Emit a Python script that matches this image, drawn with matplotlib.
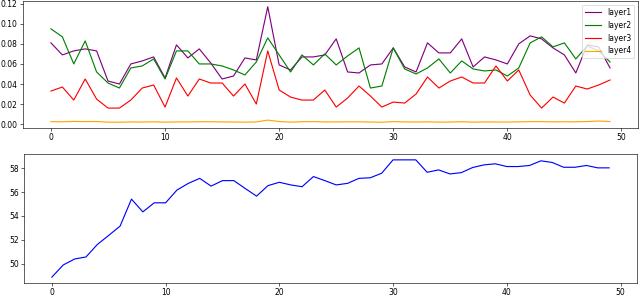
import matplotlib
matplotlib.use("Agg")
import matplotlib.pyplot as plt
import numpy as np

# valores (50 epocas)
layer1 = [0.081, 0.069, 0.073, 0.075, 0.073, 0.043, 0.040, 0.060, 0.063, 0.067,
          0.046, 0.079, 0.066, 0.075, 0.061, 0.045, 0.048, 0.066, 0.064, 0.117,
          0.059, 0.054, 0.067, 0.067, 0.069, 0.085, 0.052, 0.051, 0.059, 0.060,
          0.076, 0.057, 0.052, 0.081, 0.071, 0.071, 0.085, 0.057, 0.067, 0.064,
          0.060, 0.080, 0.088, 0.085, 0.076, 0.069, 0.051, 0.079, 0.077, 0.056]
layer2 = [0.095, 0.087, 0.060, 0.083, 0.052, 0.041, 0.036, 0.056, 0.058, 0.065,
          0.045, 0.073, 0.073, 0.060, 0.060, 0.058, 0.054, 0.049, 0.062, 0.086,
          0.069, 0.052, 0.069, 0.059, 0.070, 0.059, 0.068, 0.076, 0.036, 0.038,
          0.076, 0.055, 0.050, 0.056, 0.065, 0.051, 0.063, 0.055, 0.053, 0.054,
          0.048, 0.056, 0.081, 0.087, 0.077, 0.081, 0.065, 0.078, 0.073, 0.062]
layer3 = [0.033, 0.037, 0.024, 0.045, 0.025, 0.016, 0.016, 0.024, 0.036, 0.039,
          0.017, 0.046, 0.028, 0.045, 0.041, 0.041, 0.028, 0.040, 0.020, 0.073,
          0.034, 0.027, 0.024, 0.024, 0.034, 0.017, 0.026, 0.038, 0.028, 0.017,
          0.022, 0.021, 0.030, 0.047, 0.036, 0.043, 0.047, 0.041, 0.041, 0.058,
          0.043, 0.054, 0.029, 0.016, 0.027, 0.021, 0.038, 0.035, 0.039, 0.044]
layer4 = [0.0025, 0.0023, 0.0027, 0.0025, 0.0026, 0.0020, 0.0019, 0.0022, 0.0021, 0.0023,
          0.0020, 0.0022, 0.0022, 0.0024, 0.0024, 0.0022, 0.0021, 0.0020, 0.0022, 0.0040,
          0.0026, 0.0020, 0.0024, 0.0025, 0.0022, 0.0022, 0.0023, 0.0023, 0.0021, 0.0019,
          0.0025, 0.0022, 0.0021, 0.0023, 0.0020, 0.0021, 0.0024, 0.0020, 0.0022, 0.0021,
          0.0021, 0.0023, 0.0025, 0.0025, 0.0023, 0.0024, 0.0023, 0.0026, 0.0031, 0.0026]
acc = [48.87, 49.89, 50.39, 50.56, 51.61, 52.37, 53.15, 55.41, 54.34, 55.10,
       55.10, 56.17, 56.73, 57.15, 56.50, 56.96, 56.96, 56.30, 55.66, 56.54,
       56.82, 56.60, 56.45, 57.30, 56.96, 56.60, 56.73, 57.15, 57.20, 57.58,
       58.70, 58.70, 58.70, 57.66, 57.86, 57.52, 57.63, 58.06, 58.28, 58.37,
       58.14, 58.14, 58.23, 58.62, 58.48, 58.08, 58.08, 58.23, 58.03, 58.03]

epocas = np.arange(len(acc))

fig = plt.figure(figsize=(640 / 55, 296 / 55), dpi=55)
ax1 = fig.add_axes([23 / 640, 1 - 128 / 296, 615 / 640, 127 / 296])
ax2 = fig.add_axes([24 / 640, 1 - 283 / 296, 613 / 640, 129 / 296])

ax1.plot(epocas, layer1, color='purple', label='layer1')
ax1.plot(epocas, layer2, color='green', label='layer2')
ax1.plot(epocas, layer3, color='red', label='layer3')
ax1.plot(epocas, layer4, color='orange', label='layer4')
ax1.legend(loc='upper right')

ax2.plot(epocas, acc, color='blue')

fig.savefig("out.png", dpi=55)
